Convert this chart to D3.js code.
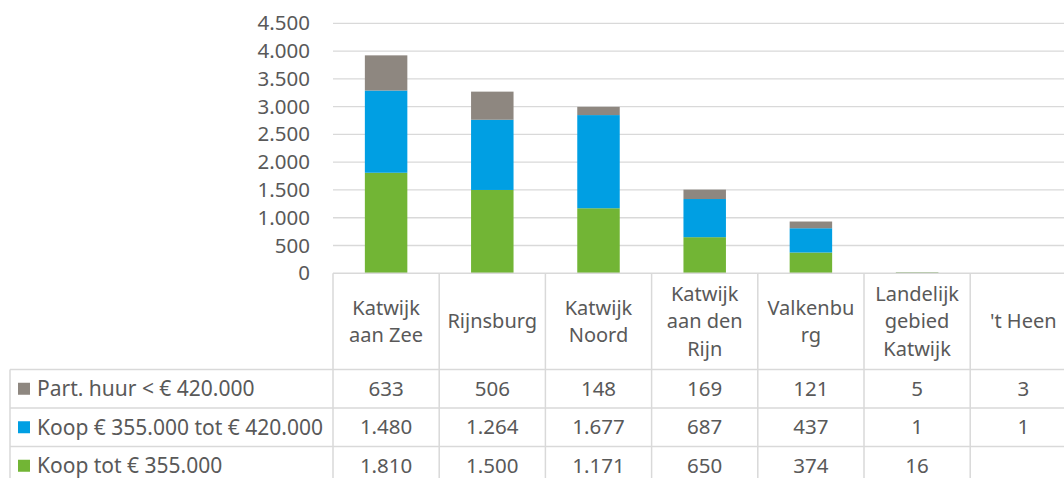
<!DOCTYPE html>
<html>
<head>
<meta charset="utf-8">
<script src="https://cdn.jsdelivr.net/npm/d3@7"></script>
<style>
  html, body { margin: 0; padding: 0; background: #fff; }
  svg { display: block; font-family: "Noto Sans", "Open Sans", sans-serif; }
</style>
</head>
<body>
<svg id="chart" width="1064" height="478"></svg>
<script>
// chart data
const categories = ['Katwijk aan Zee', 'Rijnsburg', 'Katwijk Noord', 'Katwijk aan den Rijn', 'Valkenburg', 'Landelijk gebied Katwijk', "'t Heen"];
const categoryLines = [['Katwijk', 'aan Zee'], ['Rijnsburg'], ['Katwijk', 'Noord'], ['Katwijk', 'aan den', 'Rijn'], ['Valkenbu', 'rg'], ['Landelijk', 'gebied', 'Katwijk'], ["'t Heen"]];
const seriesNames = ['Koop tot € 355.000', 'Koop € 355.000 tot € 420.000', 'Part. huur < € 420.000'];
const koopTot = [1810, 1500, 1171, 650, 374, 16, null];
const koopMidden = [1480, 1264, 1677, 687, 437, 1, 1];
const partHuur = [633, 506, 148, 169, 121, 5, 3];
const yTicks = [0, 500, 1000, 1500, 2000, 2500, 3000, 3500, 4000, 4500];
const colors = ['#72b535', '#009fe3', '#8e8780'];

const series = [koopTot, koopMidden, partHuur];
const textColor = '#595959';
const lineColor = '#d9d9d9';

const nl = d3.formatLocale({ decimal: ',', thousands: '.', grouping: [3], currency: ['€ ', ''] });
const fmt = nl.format(',d');

const svg = d3.select('#chart');

const plotLeft = 333, colStep = 106.2;
const plotRight = plotLeft + colStep * categories.length;
const y0 = 273.3, yTop = 23.3;
const headerBottom = 369.5, rowH = 38.5;
const legendLeft = 10;

const x = d3.scaleBand().domain(categories).range([plotLeft, plotRight]).paddingInner(0.6).paddingOuter(0.3);
const col = d3.scaleBand().domain(categories).range([plotLeft, plotRight]);
const y = d3.scaleLinear().domain([0, 4500]).range([y0, yTop]);

// gridlines
svg.append('g')
  .selectAll('line')
  .data(yTicks.slice(1))
  .join('line')
  .attr('x1', plotLeft).attr('x2', plotRight)
  .attr('y1', d => y(d)).attr('y2', d => y(d))
  .attr('stroke', lineColor).attr('stroke-width', 1.3);

// y axis labels
const yAxis = svg.append('g')
  .attr('transform', `translate(${plotLeft - 23},0)`)
  .call(d3.axisLeft(y).tickValues(yTicks).tickFormat(fmt).tickSize(0).tickPadding(0))
  .attr('font-family', null)
  .attr('font-size', null);
yAxis.select('.domain').remove();
yAxis.selectAll('text').attr('fill', textColor).style('font-size', '20.5px');

// stacked bars
const rows = categories.map((c, i) => ({ cat: c, s0: koopTot[i] || 0, s1: koopMidden[i] || 0, s2: partHuur[i] || 0 }));
const stack = d3.stack().keys(['s0', 's1', 's2']);
const stacked = stack(rows);
svg.append('g')
  .selectAll('g')
  .data(stacked)
  .join('g')
  .attr('fill', (d, i) => colors[i])
  .selectAll('rect')
  .data(d => d)
  .join('rect')
  .attr('x', d => x(d.data.cat))
  .attr('width', x.bandwidth())
  .attr('y', d => y(d[1]))
  .attr('height', d => y(d[0]) - y(d[1]));

// data table
const table = svg.append('g').attr('stroke', lineColor).attr('stroke-width', 1.5).attr('fill', 'none');
const tableBottom = 478 + 2;
// horizontal lines
table.append('line').attr('x1', plotLeft).attr('x2', plotRight).attr('y1', y0).attr('y2', y0);
[0, 1, 2].forEach(r => {
  table.append('line').attr('x1', legendLeft).attr('x2', plotRight)
    .attr('y1', headerBottom + r * rowH).attr('y2', headerBottom + r * rowH);
});
// vertical lines
categories.forEach(c => {
  table.append('line').attr('x1', col(c)).attr('x2', col(c)).attr('y1', y0).attr('y2', tableBottom);
});
table.append('line').attr('x1', legendLeft).attr('x2', legendLeft).attr('y1', headerBottom).attr('y2', tableBottom);

// header labels
const lh = 27.5;
const headerMid = (y0 + headerBottom) / 2;
svg.append('g')
  .selectAll('text')
  .data(categories)
  .join('text')
  .attr('text-anchor', 'middle')
  .attr('fill', textColor)
  .style('font-size', '20px')
  .each(function (c, i) {
    const lines = categoryLines[i];
    const start = headerMid - (lines.length - 1) * lh / 2;
    d3.select(this).selectAll('tspan')
      .data(lines)
      .join('tspan')
      .attr('x', col(c) + col.bandwidth() / 2)
      .attr('y', (d, j) => start + j * lh)
      .attr('dy', '0.35em')
      .text(d => d);
  });

// table rows, top to bottom: huur, midden, koop tot
const order = [2, 1, 0];
order.forEach((s, r) => {
  const cy = headerBottom + r * rowH + rowH / 2;
  const g = svg.append('g');
  g.append('rect')
    .attr('x', 18).attr('y', cy - 6).attr('width', 12).attr('height', 12)
    .attr('fill', colors[s]);
  g.append('text')
    .attr('x', 37).attr('y', cy).attr('dy', '0.35em')
    .attr('fill', textColor).style('font-size', '21px')
    .text(seriesNames[s]);
  g.selectAll('text.val')
    .data(categories)
    .join('text')
    .attr('class', 'val')
    .attr('x', c => col(c) + col.bandwidth() / 2)
    .attr('y', cy).attr('dy', '0.35em')
    .attr('text-anchor', 'middle')
    .attr('fill', textColor).style('font-size', '20.5px')
    .text((c, i) => series[s][i] == null ? '' : fmt(series[s][i]));
});
</script>
</body>
</html>
